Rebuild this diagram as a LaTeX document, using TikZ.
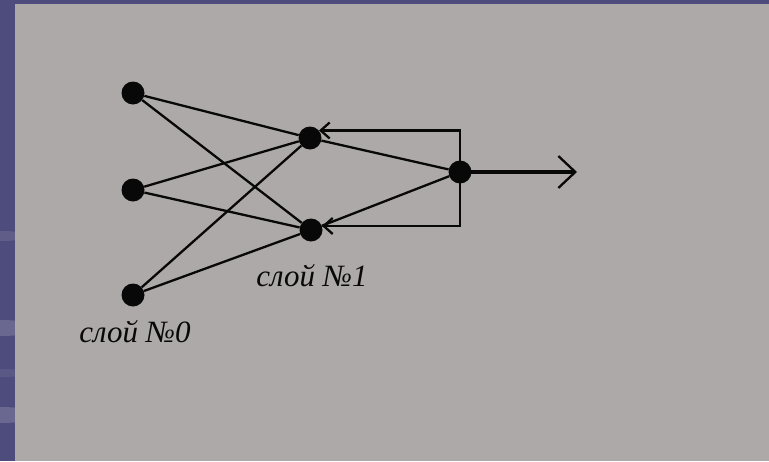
\documentclass[tikz,border=0pt]{standalone}
\usepackage{fontspec}
\setmainfont{Liberation Serif}
\usetikzlibrary{arrows.meta}
\definecolor{Slide}{RGB}{78,76,124}
\definecolor{Board}{RGB}{173,169,168}
\definecolor{Ink}{RGB}{8,8,8}

\begin{document}
\begin{tikzpicture}[x=1pt,y=-1pt,
 n/.style={circle,fill=Ink,inner sep=0pt,minimum size=23pt},
 w/.style={line width=2.3pt,Ink},
 fb/.style={line width=2.3pt,Ink,-{Straight Barb[length=9pt,width=16pt]}},
 lbl/.style={font=\fontsize{31}{31}\selectfont\itshape,text=Ink}]
% slide background
\fill[Slide] (0,0) rectangle (769,461);
\begin{scope}
\clip (0,0) rectangle (15,461);
\fill[white,opacity=.10] (0,236) ellipse (30 and 5);
\fill[white,opacity=.16] (0,328) ellipse (40 and 8);
\fill[white,opacity=.07] (0,373) ellipse (30 and 4);
\fill[white,opacity=.16] (0,415) ellipse (40 and 8);
\end{scope}
\fill[Board] (15,4) rectangle (769,461);
% layer 0
\node[n] (a) at (133,93) {};
\node[n] (b) at (133,190) {};
\node[n] (c) at (133,295) {};
% layer 1
\node[n] (p) at (310,138) {};
\node[n] (q) at (311,230) {};
% output neuron
\node[n] (r) at (460,172) {};
\coordinate (out) at (577,172);
\foreach \i in {a,b,c}
  \foreach \j in {p,q}
    \draw[w] (\i) -- (\j);
\draw[w] (p) -- (r);
\draw[w] (q) -- (r);
\draw[fb] (r.center) |- (p.40);
\draw[fb] (r.center) |- (q.20);
\draw[line width=4.5pt,Ink,-{Straight Barb[length=17pt,width=32pt,line width=2.3pt]}] (r.center) -- (out);
\node[lbl] (l0) at (135,332) {слой №0};
\node[lbl] (l1) at (312,276) {слой №1};
\end{tikzpicture}
\end{document}
